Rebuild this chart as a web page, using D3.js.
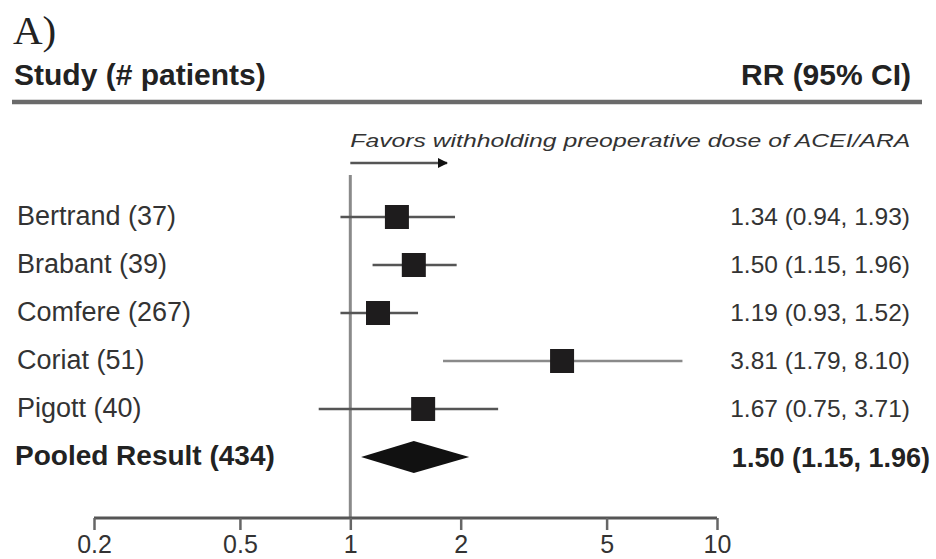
<!DOCTYPE html>
<html>
<head>
<meta charset="utf-8">
<script src="https://cdn.jsdelivr.net/npm/d3@7"></script>
<style>
  body { margin: 0; background: #fff; }
  text { font-family: "Liberation Sans", Arial, sans-serif; }
</style>
</head>
<body>
<div id="chart"></div>
<script>
const width = 936, height = 559;

// data: studies, printed RR (95% CI) and where the marks sit on the plot
const studies  = ["Bertrand (37)", "Brabant (39)", "Comfere (267)", "Coriat (51)", "Pigott (40)"];
const ciLabels = ["1.34 (0.94, 1.93)", "1.50 (1.15, 1.96)", "1.19 (0.93, 1.52)", "3.81 (1.79, 8.10)", "1.67 (0.75, 3.71)"];
const rr    = [1.34, 1.49, 1.19, 3.78, 1.58];
const lower = [0.94, 1.15, 0.94, 1.79, 0.82];
const upper = [1.93, 1.95, 1.53, 8.05, 2.53];
const pooledLabel = "Pooled Result (434)";
const pooledCiLabel = "1.50 (1.15, 1.96)";
const pooled = {rr: 1.49, lower: 1.07, upper: 2.11};
const tickValues = [0.2, 0.5, 1, 2, 5, 10];

const svg = d3.select("#chart").append("svg")
  .attr("width", width)
  .attr("height", height);

// scales
let x = d3.scaleLog()
  .domain([0.2, 10])
  .range([94, 717]);

let rows = studies.concat([pooledLabel]);
let y = d3.scalePoint()
  .domain(rows)
  .range([217, 457]);

// header
svg.append("text")
  .attr("x", 13).attr("y", 44)
  .style("font-family", "'Liberation Serif', serif")
  .style("font-size", "41px")
  .attr("fill", "#222")
  .text("A)");

svg.append("text")
  .attr("x", 14).attr("y", 85)
  .style("font-size", "30px").style("font-weight", "bold")
  .attr("fill", "#222")
  .text("Study (# patients)");

svg.append("text")
  .attr("x", 911).attr("y", 85)
  .attr("text-anchor", "end")
  .style("font-size", "30px").style("font-weight", "bold")
  .attr("fill", "#222")
  .text("RR (95% CI)");

svg.append("line")
  .attr("x1", 12).attr("x2", 922)
  .attr("y1", 102).attr("y2", 102)
  .attr("stroke", "#6a6a6a").attr("stroke-width", 4.5);

// favors annotation + arrow
svg.append("text")
  .attr("x", x(1)).attr("y", 147)
  .attr("textLength", 560)
  .attr("lengthAdjust", "spacingAndGlyphs")
  .style("font-size", "18px").style("font-style", "italic")
  .attr("fill", "#333")
  .text("Favors withholding preoperative dose of ACEI/ARA");

svg.append("defs").append("marker")
  .attr("id", "arrow")
  .attr("viewBox", "0 0 10 10")
  .attr("refX", 9).attr("refY", 5)
  .attr("markerWidth", 4).attr("markerHeight", 4)
  .attr("orient", "auto")
  .append("path")
  .attr("d", "M0,0 L10,5 L0,10 z")
  .attr("fill", "#111");

svg.append("line")
  .attr("x1", x(1)).attr("x2", 447)
  .attr("y1", 163).attr("y2", 163)
  .attr("stroke", "#555").attr("stroke-width", 2.5)
  .attr("marker-end", "url(#arrow)");

// reference line at RR = 1
svg.append("line")
  .attr("x1", x(1)).attr("x2", x(1))
  .attr("y1", 175).attr("y2", 518)
  .attr("stroke", "#8a8a8a").attr("stroke-width", 3);

// x axis
let axis = svg.append("g")
  .attr("class", "axis x")
  .attr("transform", "translate(0,518)")
  .call(d3.axisBottom(x).tickValues(tickValues).tickFormat(d => d).tickSize(12).tickSizeOuter(0));
axis.select(".domain").attr("stroke", "#555").attr("stroke-width", 3)
  .attr("d", "M" + x(0.2) + ",0H" + x(10));
axis.selectAll(".tick line").attr("stroke", "#666").attr("stroke-width", 2.5);
axis.selectAll(".tick text")
  .attr("y", 17)
  .style("font-size", "25px")
  .style("font-family", "'Liberation Sans', Arial, sans-serif")
  .attr("fill", "#333");

// study rows
let idx = d3.range(studies.length);

svg.selectAll(".label")
  .data(idx)
  .join("text")
  .attr("class", "label")
  .attr("x", 17)
  .attr("y", i => y(studies[i]) + 8)
  .style("font-size", "27px")
  .attr("fill", "#333")
  .text(i => studies[i]);

svg.selectAll(".ci")
  .data(idx)
  .join("line")
  .attr("class", "ci")
  .attr("x1", i => x(lower[i]))
  .attr("x2", i => x(upper[i]))
  .attr("y1", i => y(studies[i]))
  .attr("y2", i => y(studies[i]))
  .attr("stroke", i => i === 3 ? "#8a8a8a" : "#555")
  .attr("stroke-width", 2.5);

const sq = 24;
svg.selectAll(".box")
  .data(idx)
  .join("rect")
  .attr("class", "box")
  .attr("x", i => x(rr[i]) - sq / 2)
  .attr("y", i => y(studies[i]) - sq / 2)
  .attr("width", sq).attr("height", sq)
  .attr("fill", "#1e1c1d");

svg.selectAll(".val")
  .data(idx)
  .join("text")
  .attr("class", "val")
  .attr("x", 910)
  .attr("y", i => y(studies[i]) + 8)
  .attr("text-anchor", "end")
  .style("font-size", "24.5px")
  .attr("fill", "#333")
  .text(i => ciLabels[i]);

// pooled row
let py = y(pooledLabel);
svg.append("text")
  .attr("x", 15).attr("y", py + 8)
  .style("font-size", "28px").style("font-weight", "bold")
  .attr("fill", "#222")
  .text(pooledLabel);

svg.append("path")
  .attr("d", "M" + x(pooled.lower) + "," + py +
             "L" + x(pooled.rr) + "," + (py - 16) +
             "L" + x(pooled.upper) + "," + py +
             "L" + x(pooled.rr) + "," + (py + 16) + "Z")
  .attr("fill", "#111");

svg.append("text")
  .attr("x", 930).attr("y", py + 10)
  .attr("text-anchor", "end")
  .style("font-size", "27px").style("font-weight", "bold")
  .attr("fill", "#222")
  .text(pooledCiLabel);
</script>
</body>
</html>
